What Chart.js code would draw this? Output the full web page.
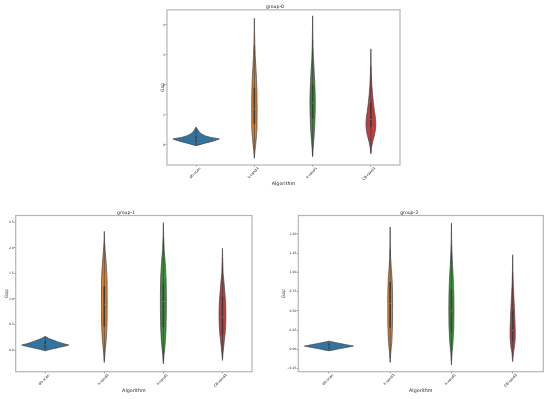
<!DOCTYPE html>
<html>
<head>
<meta charset="utf-8">
<script src="https://cdn.jsdelivr.net/npm/chart.js@4/dist/chart.umd.min.js"></script>
<style>
html, body { margin: 0; padding: 0; background: #fff; }
body { width: 550px; height: 399px; position: relative; overflow: hidden; }
canvas { position: absolute; }
</style>
</head>
<body>
<canvas id="g0" width="260" height="200" style="left:150px;top:0px"></canvas>
<canvas id="g1" width="275" height="199" style="left:0px;top:200px"></canvas>
<canvas id="g2" width="275" height="199" style="left:275px;top:200px"></canvas>
<script>
// categories
const algorithms = ['db-scan', 'k-rand3', 'k-rand5', 'CB-rand3'];

// group-0 : violin outlines (y level, half width in category units)
const g0DbscanY = [-0.03, 0.0, 0.05, 0.1, 0.15, 0.2, 0.25, 0.3, 0.35, 0.4, 0.5, 0.6];
const g0DbscanW = [0, 0.05, 0.14, 0.24, 0.33, 0.40, 0.25, 0.16, 0.11, 0.07, 0.03, 0];
const g0Rand3Y = [-0.45, -0.2, 0, 0.3, 0.6, 1.0, 1.4, 1.8, 2.2, 2.6, 3.0, 3.4, 3.8, 4.22];
const g0Rand3W = [0, 0.009, 0.022, 0.036, 0.045, 0.046, 0.046, 0.043, 0.036, 0.025, 0.014, 0.007, 0.003, 0];
const g0Rand5Y = [-0.4, -0.1, 0.2, 0.5, 0.9, 1.3, 1.7, 2.1, 2.5, 2.9, 3.3, 3.8, 4.3];
const g0Rand5W = [0, 0.009, 0.022, 0.032, 0.041, 0.046, 0.044, 0.036, 0.025, 0.013, 0.006, 0.003, 0];
const g0CbY = [-0.3, -0.1, 0.1, 0.3, 0.5, 0.7, 0.9, 1.1, 1.4, 1.7, 2.0, 2.4, 2.8, 3.2];
const g0CbW = [0, 0.01, 0.03, 0.058, 0.078, 0.085, 0.078, 0.063, 0.043, 0.028, 0.016, 0.007, 0.003, 0];
// inner box: whisker low, q1, median, q3, whisker high
const g0Boxes = [[0.0, 0.12, 0.2, 0.28, 0.55], [-0.4, 0.7, 1.2, 1.9, 3.3], [-0.35, 0.88, 1.4, 2.0, 3.5], [-0.25, 0.6, 0.85, 1.4, 2.6]];
const g0Range = [-0.67, 4.5];
const g0Ticks = [0, 1, 2, 3, 4];
const g0TickLabels = ['0', '1', '2', '3', '4'];

// group-1
const g1DbscanY = [-0.01, 0.02, 0.05, 0.08, 0.1, 0.13, 0.16, 0.2, 0.23, 0.27];
const g1DbscanW = [0, 0.1, 0.22, 0.34, 0.4, 0.3, 0.22, 0.13, 0.06, 0];
const g1Rand3Y = [-0.24, -0.05, 0.2, 0.5, 0.8, 1.1, 1.4, 1.7, 1.95, 2.1, 2.32];
const g1Rand3W = [0, 0.011, 0.032, 0.046, 0.048, 0.048, 0.046, 0.032, 0.014, 0.005, 0];
const g1Rand5Y = [-0.27, -0.1, 0.15, 0.45, 0.8, 1.1, 1.4, 1.7, 1.95, 2.2, 2.49];
const g1Rand5W = [0, 0.011, 0.032, 0.046, 0.05, 0.05, 0.046, 0.032, 0.014, 0.005, 0];
const g1CbY = [-0.2, -0.05, 0.15, 0.35, 0.55, 0.7, 0.9, 1.1, 1.3, 1.5, 1.75, 1.99];
const g1CbW = [0, 0.01, 0.028, 0.047, 0.056, 0.058, 0.054, 0.042, 0.028, 0.011, 0.004, 0];
const g1Boxes = [[0.0, 0.05, 0.1, 0.17, 0.26], [-0.2, 0.46, 0.9, 1.25, 2.1], [-0.22, 0.45, 0.95, 1.3, 2.2], [-0.15, 0.3, 0.65, 1.05, 1.8]];
const g1Range = [-0.42, 2.63];
const g1Ticks = [0, 0.5, 1, 1.5, 2, 2.5];
const g1TickLabels = ['0.0', '0.5', '1.0', '1.5', '2.0', '2.5'];

// group-2
const g2DbscanY = [-0.018, 0.0, 0.02, 0.043, 0.06, 0.08, 0.107];
const g2DbscanW = [0, 0.12, 0.25, 0.4, 0.29, 0.16, 0];
const g2Rand3Y = [-0.17, -0.05, 0.1, 0.3, 0.5, 0.7, 0.9, 1.05, 1.2, 1.4, 1.59];
const g2Rand3W = [0, 0.009, 0.027, 0.037, 0.039, 0.039, 0.032, 0.018, 0.007, 0.003, 0];
const g2Rand5Y = [-0.2, -0.05, 0.1, 0.3, 0.5, 0.7, 0.9, 1.1, 1.3, 1.45, 1.64];
const g2Rand5W = [0, 0.009, 0.027, 0.039, 0.042, 0.04, 0.032, 0.018, 0.007, 0.003, 0];
const g2CbY = [-0.16, -0.05, 0.05, 0.15, 0.25, 0.4, 0.55, 0.7, 0.85, 1.0, 1.23];
const g2CbW = [0, 0.011, 0.032, 0.042, 0.042, 0.035, 0.028, 0.018, 0.009, 0.004, 0];
const g2Boxes = [[-0.01, 0.02, 0.045, 0.07, 0.1], [-0.12, 0.28, 0.6, 0.88, 1.3], [-0.15, 0.22, 0.5, 0.78, 1.35], [-0.1, 0.1, 0.25, 0.5, 1.0]];
const g2Range = [-0.29, 1.74];
const g2Ticks = [-0.25, 0, 0.25, 0.5, 0.75, 1, 1.25, 1.5];
const g2TickLabels = ['\u22120.25', '0.00', '0.25', '0.50', '0.75', '1.00', '1.25', '1.50'];

const palette = ['#3274a1', '#e1812c', '#3a923a', '#c03d3e'];
const edge = '#3d3d3d';
const FONT = 'DejaVu Sans';

// closed outline: right side going up, left side coming down
function outline(center, ys, ws) {
  const pts = [];
  for (let i = 0; i < ys.length; i++) pts.push({x: center + ws[i], y: ys[i]});
  for (let i = ys.length - 1; i >= 0; i--) pts.push({x: center - ws[i], y: ys[i]});
  return pts;
}

// higher "order" is drawn first, so violins sit under the inner boxes
function buildDatasets(violins, boxes) {
  const sets = [];
  violins.forEach((v, i) => {
    sets.push({
      data: outline(i, v[0], v[1]),
      backgroundColor: palette[i],
      borderColor: edge,
      borderWidth: 0.7,
      fill: 'shape',
      pointRadius: 0,
      tension: 0.0001,   // non-zero keeps chart.js off its pixel-binning fast path
      order: 3
    });
  });
  boxes.forEach((b, i) => {
    sets.push({data: [{x: i, y: b[0]}, {x: i, y: b[4]}], borderColor: edge, borderWidth: 0.7, pointRadius: 0, fill: false, tension: 0.0001, order: 2});
    sets.push({data: [{x: i, y: b[1]}, {x: i, y: b[3]}], borderColor: edge, borderWidth: 1.6, pointRadius: 0, fill: false, tension: 0.0001, order: 1});
    sets.push({data: [{x: i, y: b[2]}], showLine: false, pointRadius: 0.45, pointBorderWidth: 0, pointBackgroundColor: '#dddddd', fill: false, order: 0});
  });
  return sets;
}

const frame = {
  id: 'frame',
  afterDraw(chart) {
    const a = chart.chartArea, ctx = chart.ctx;
    ctx.save();
    ctx.strokeStyle = '#b5b5b5';
    ctx.lineWidth = 1.2;
    ctx.strokeRect(a.left, a.top, a.right - a.left, a.bottom - a.top);
    ctx.restore();
  }
};

function makeChart(id, title, violins, boxes, range, ticks, tickLabels, lay) {
  new Chart(document.getElementById(id), {
    type: 'line',
    data: {datasets: buildDatasets(violins, boxes)},
    plugins: [frame],
    options: {
      responsive: false,
      animation: false,
      layout: {padding: {left: 0, right: lay.right, top: 0, bottom: 0}},
      plugins: {
        legend: {display: false},
        tooltip: {enabled: false},
        title: {display: true, text: title, color: '#222', font: {family: FONT, size: 4.6, weight: 'normal'}, padding: {top: lay.titleTop, bottom: lay.titleBottom}}
      },
      scales: {
        x: {
          type: 'linear', min: -0.5, max: 3.5,
          afterBuildTicks: s => { s.ticks = algorithms.map((a, i) => ({value: i})); },
          afterFit: s => { s.height = lay.xHeight; },
          border: {display: false},
          grid: {drawOnChartArea: false, tickLength: 1.5, color: '#444', lineWidth: 0.6},
          ticks: {
            autoSkip: false, minRotation: 45, maxRotation: 45, padding: 0, labelOffset: 4,
            color: '#222', font: {family: FONT, size: 3.6},
            callback: (v, i) => algorithms[i]
          },
          title: {display: true, text: 'Algorithm', color: '#222', font: {family: FONT, size: 4.8}, padding: {top: 0, bottom: lay.xTitleBottom}}
        },
        y: {
          type: 'linear', min: range[0], max: range[1],
          afterBuildTicks: s => { s.ticks = ticks.map(v => ({value: v})); },
          afterFit: s => { s.width = lay.yWidth; },
          border: {display: false},
          grid: {drawOnChartArea: false, tickLength: 1.5, color: '#444', lineWidth: 0.6},
          ticks: {padding: 0.5, color: '#222', font: {family: FONT, size: 3}, callback: (v, i) => tickLabels[i]},
          title: {display: true, text: 'Gap', color: '#222', font: {family: FONT, size: 4.5}, padding: {top: lay.yTitleLeft, bottom: 0}}
        }
      }
    }
  });
}

makeChart('g0', 'group-0',
  [[g0DbscanY, g0DbscanW], [g0Rand3Y, g0Rand3W], [g0Rand5Y, g0Rand5W], [g0CbY, g0CbW]],
  g0Boxes, g0Range, g0Ticks, g0TickLabels,
  {right: 10, titleTop: 3.8, titleBottom: 0.5, xHeight: 35, xTitleBottom: 13, yWidth: 17, yTitleLeft: 10});

makeChart('g1', 'group-1',
  [[g1DbscanY, g1DbscanW], [g1Rand3Y, g1Rand3W], [g1Rand5Y, g1Rand5W], [g1CbY, g1CbW]],
  g1Boxes, g1Range, g1Ticks, g1TickLabels,
  {right: 23, titleTop: 10, titleBottom: 0, xHeight: 27.3, xTitleBottom: 5.8, yWidth: 15.7, yTitleLeft: 4});

makeChart('g2', 'group-2',
  [[g2DbscanY, g2DbscanW], [g2Rand3Y, g2Rand3W], [g2Rand5Y, g2Rand5W], [g2CbY, g2CbW]],
  g2Boxes, g2Range, g2Ticks, g2TickLabels,
  {right: 6.7, titleTop: 10, titleBottom: 0, xHeight: 27.3, xTitleBottom: 5.8, yWidth: 23.3, yTitleLeft: 6.3});
</script>
</body>
</html>
